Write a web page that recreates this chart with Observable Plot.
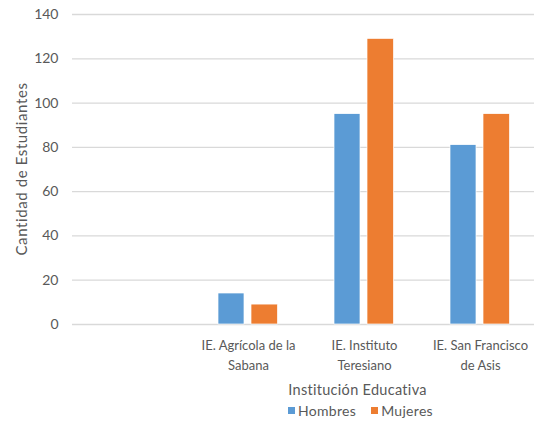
<!DOCTYPE html>
<html>
<head>
<meta charset="utf-8">
<script src="https://cdn.jsdelivr.net/npm/d3@7"></script>
<script src="https://cdn.jsdelivr.net/npm/@observablehq/plot@0.6"></script>
<style>
  html, body { margin: 0; padding: 0; background: #fff; overflow: hidden; }
  #wrap { position: relative; width: 534px; height: 421px; overflow: hidden; font-family: Lato, "Open Sans", sans-serif; color: #595959; }
  #chart { position: absolute; left: 0; top: 0; }
  #chart svg { max-width: none !important; }
  #xtitle { position: absolute; top: 381px; left: 0; width: 715px; text-align: center; font-size: 14.5px; letter-spacing: 0.3px; }
  #ylabel { position: absolute; left: 21px; top: 169px; transform: translate(-50%, -50%) rotate(-90deg); white-space: nowrap; font-size: 15px; letter-spacing: 0.6px; }
  #legend { position: absolute; top: 402px; left: 288px; font-size: 14px; display: flex; align-items: center; letter-spacing: 0.3px; }
  .sw { display: inline-block; width: 7px; height: 7px; margin-right: 3px; }
  .item { display: flex; align-items: center; margin-right: 15px; }
</style>
</head>
<body>
<div id="wrap">
  <div id="chart"></div>
  <div id="ylabel">Cantidad de Estudiantes</div>
  <div id="xtitle">Institución Educativa</div>
  <div id="legend"></div>
</div>
<script>
const categories = ["", "IE. Agrícola de la Sabana", "IE. Instituto Teresiano", "IE. San Francisco de Asis"];
const tickLabels = ["", "IE. Agrícola de la\nSabana", "IE. Instituto\nTeresiano", "IE. San Francisco\nde Asis"];
const hombres = [null, 14, 95, 81];
const mujeres = [null, 9, 129, 95];
const seriesNames = ["Hombres", "Mujeres"];
const seriesColors = ["#5B9BD5", "#ED7D31"];
const yTicks = [0, 20, 40, 60, 80, 100, 120, 140];

const rows = categories.map((c, i) => ({cat: c, h: hombres[i], m: mujeres[i]}));
const labelOf = new Map(categories.map((c, i) => [c, tickLabels[i]]));

const plot = Plot.plot({
  width: 539,
  height: 380,
  marginLeft: 72,
  marginRight: 0,
  marginTop: 14,
  marginBottom: 56,
  style: {fontFamily: "Lato, 'Open Sans', sans-serif", fontSize: "13px", color: "#595959", background: "transparent", maxWidth: "none"},
  x: {domain: categories, padding: 0},
  y: {domain: [0, 140]},
  marks: [
    Plot.gridY(yTicks, {stroke: "#D9D9D9", strokeOpacity: 1, strokeWidth: 1.3}),
    Plot.barY(rows.filter(d => d.h != null), {x: "cat", y: "h", fill: seriesColors[0], stroke: "white", strokeWidth: 0.7, insetLeft: 28, insetRight: 62}),
    Plot.barY(rows.filter(d => d.m != null), {x: "cat", y: "m", fill: seriesColors[1], stroke: "white", strokeWidth: 0.7, insetLeft: 61, insetRight: 28.5}),
    Plot.axisY({ticks: yTicks, tickSize: 0, tickPadding: 14, label: null, fontSize: 14}),
    Plot.axisX({tickSize: 0, tickPadding: 11, tickFormat: d => labelOf.get(d), lineHeight: 1.55, label: null, fontSize: 13})
  ]
});
document.getElementById("chart").appendChild(plot);

const legend = document.getElementById("legend");
seriesNames.forEach((name, i) => {
  const item = document.createElement("span");
  item.className = "item";
  const sw = document.createElement("span");
  sw.className = "sw";
  sw.style.background = seriesColors[i];
  item.appendChild(sw);
  item.appendChild(document.createTextNode(name));
  legend.appendChild(item);
});
</script>
</body>
</html>
